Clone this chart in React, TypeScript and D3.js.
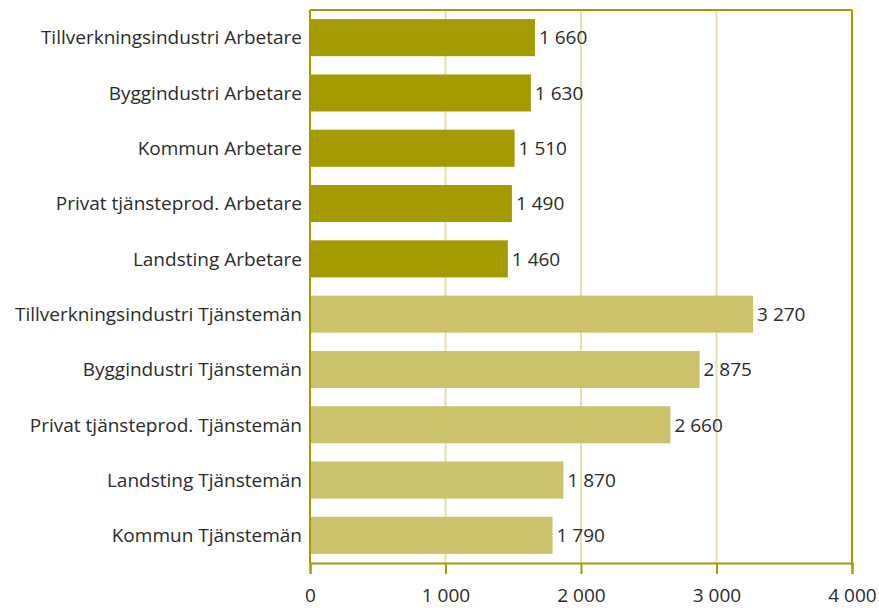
import React, { useEffect, useRef } from 'react';
import * as d3 from 'd3';

const categories = [
  'Tillverkningsindustri Arbetare',
  'Byggindustri Arbetare',
  'Kommun Arbetare',
  'Privat tjänsteprod. Arbetare',
  'Landsting Arbetare',
  'Tillverkningsindustri Tjänstemän',
  'Byggindustri Tjänstemän',
  'Privat tjänsteprod. Tjänstemän',
  'Landsting Tjänstemän',
  'Kommun Tjänstemän',
];
const values = [1660, 1630, 1510, 1490, 1460, 3270, 2875, 2660, 1870, 1790];
const groups = ['Arbetare', 'Arbetare', 'Arbetare', 'Arbetare', 'Arbetare',
  'Tjänstemän', 'Tjänstemän', 'Tjänstemän', 'Tjänstemän', 'Tjänstemän'];
const xTicks = [0, 1000, 2000, 3000, 4000];

const FONT = '"Open Sans", sans-serif';
const SIZE = '19px';

const App = () => {
  const svgRef = useRef<SVGSVGElement>(null);

  useEffect(() => {
    const svg = d3.select(svgRef.current);
    svg.selectAll('*').remove();

    const width = 879;
    const height = 608;
    const margin = { top: 10, right: 27, bottom: 45, left: 310 };
    const w = width - margin.left - margin.right;
    const h = height - margin.top - margin.bottom;

    const locale = d3.formatLocale({ decimal: ',', thousands: ' ', grouping: [3], currency: ['', ''] });
    const fmt = locale.format(',d');

    const x = d3.scaleLinear().domain([0, 4000]).range([0, w]);
    const y = d3.scaleBand().domain(categories).range([0, h]).paddingInner(0.33).paddingOuter(0.165);
    const color = d3.scaleOrdinal<string, string>().domain(['Arbetare', 'Tjänstemän']).range(['#a39b00', '#cbc26b']);

    const g = svg.append('g').attr('transform', `translate(${margin.left},${margin.top})`);

    // gridlines
    g.selectAll('.grid')
      .data(xTicks.slice(1, -1))
      .enter()
      .append('line')
      .attr('x1', d => x(d)).attr('x2', d => x(d))
      .attr('y1', 0).attr('y2', h)
      .attr('stroke', '#e6dfad')
      .attr('stroke-width', 2);

    // bars
    g.selectAll('.bar')
      .data(values)
      .enter()
      .append('rect')
      .attr('x', 0)
      .attr('y', (d, i) => y(categories[i])!)
      .attr('width', d => x(d))
      .attr('height', y.bandwidth())
      .attr('fill', (d, i) => color(groups[i]));

    // value labels
    g.selectAll('.val')
      .data(values)
      .enter()
      .append('text')
      .attr('x', d => x(d) + 4)
      .attr('y', (d, i) => y(categories[i])! + y.bandwidth() / 2)
      .attr('dy', '0.36em')
      .attr('fill', '#2b2b2b')
      .style('font-family', FONT)
      .style('font-size', SIZE)
      .text(d => fmt(d));

    // category labels
    g.selectAll('.cat')
      .data(categories)
      .enter()
      .append('text')
      .attr('x', -8)
      .attr('y', d => y(d)! + y.bandwidth() / 2)
      .attr('dy', '0.36em')
      .attr('text-anchor', 'end')
      .attr('fill', '#2b2b2b')
      .style('font-family', FONT)
      .style('font-size', SIZE)
      .text(d => d);

    // frame
    const frame = '#a39b00';
    g.append('line').attr('x1', 0).attr('x2', w).attr('y1', 0).attr('y2', 0).attr('stroke', frame).attr('stroke-width', 2);
    g.append('line').attr('x1', w).attr('x2', w).attr('y1', 0).attr('y2', h).attr('stroke', frame).attr('stroke-width', 2);
    g.append('line').attr('x1', 0).attr('x2', 0).attr('y1', 0).attr('y2', h).attr('stroke', frame).attr('stroke-width', 2);

    // x axis
    const axis = g.append('g')
      .attr('transform', `translate(0,${h})`)
      .call(d3.axisBottom(x).tickValues(xTicks).tickSize(11).tickPadding(15).tickFormat(d => fmt(d as number)));
    axis.select('.domain').attr('stroke', frame).attr('stroke-width', 2);
    axis.selectAll('.tick line').attr('stroke', frame).attr('stroke-width', 2);
    axis.selectAll('.tick text')
      .attr('fill', '#2b2b2b')
      .style('font-family', FONT)
      .style('font-size', SIZE);
  }, []);

  return (
    <svg ref={svgRef} width={879} height={608} style={{ display: 'block', position: 'absolute', left: 0, top: 0, background: '#fff' }} />
  );
};

export default App;
